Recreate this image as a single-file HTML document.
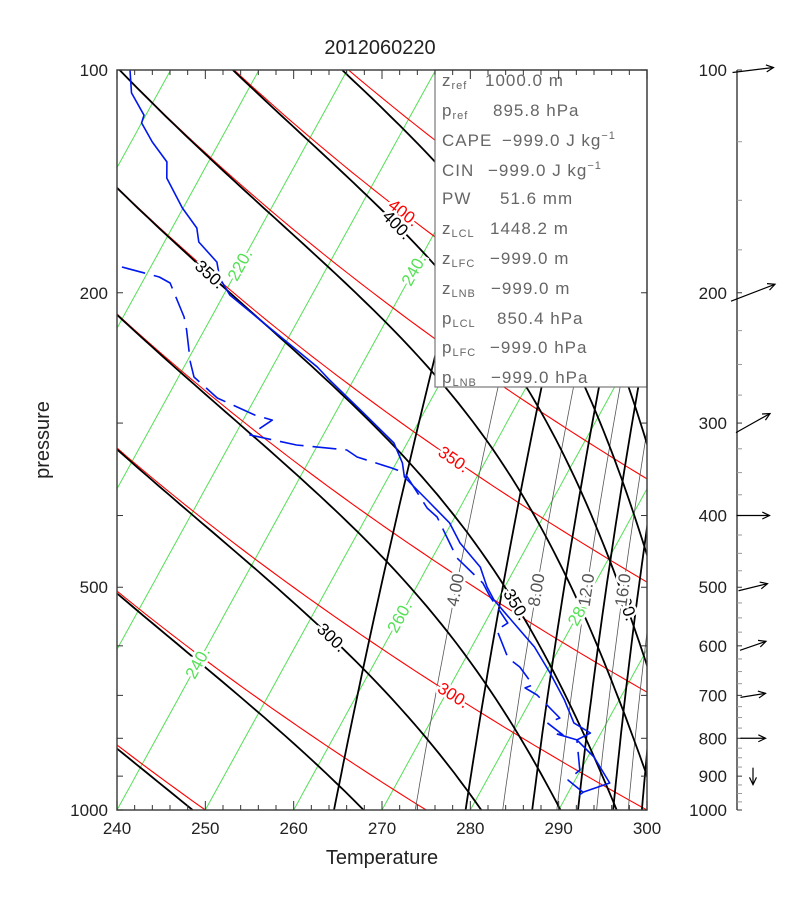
<!DOCTYPE html>
<html><head><meta charset="utf-8"><style>
html,body{margin:0;padding:0;background:#fff;}
svg{display:block;font-family:"Liberation Sans",sans-serif;}
</style></head><body>
<svg id="chart" width="810" height="910" viewBox="0 0 810 910" xmlns="http://www.w3.org/2000/svg">
<defs><clipPath id="plotclip"><rect x="117" y="70" width="530" height="740"/></clipPath></defs>
<rect x="0" y="0" width="810" height="910" fill="#fff"/>
<text x="380" y="54" font-size="20" text-anchor="middle" fill="#222">2012060220</text>
<g id="plot" clip-path="url(#plotclip)"></g>
<g id="labels"></g>
<g id="info">
<rect x="435" y="70" width="212" height="317" fill="#fff" stroke="#777" stroke-width="1.2"/>
<g font-size="17" fill="#666" letter-spacing="1">
<text x="442" y="86">z<tspan font-size="11" dy="3">ref</tspan><tspan x="485" dy="-3">1000.0  m</tspan></text>
<text x="442" y="116">p<tspan font-size="11" dy="3">ref</tspan><tspan x="493" dy="-3">895.8  hPa</tspan></text>
<text x="442" y="146">CAPE<tspan x="502">−999.0  J  kg</tspan><tspan font-size="11" dy="-7">−1</tspan></text>
<text x="442" y="176">CIN<tspan x="488">−999.0  J  kg</tspan><tspan font-size="11" dy="-7">−1</tspan></text>
<text x="442" y="204">PW<tspan x="500">51.6  mm</tspan></text>
<text x="442" y="234">z<tspan font-size="11" dy="3">LCL</tspan><tspan x="490" dy="-3">1448.2  m</tspan></text>
<text x="442" y="264">z<tspan font-size="11" dy="3">LFC</tspan><tspan x="490" dy="-3">−999.0  m</tspan></text>
<text x="442" y="294">z<tspan font-size="11" dy="3">LNB</tspan><tspan x="491" dy="-3">−999.0  m</tspan></text>
<text x="442" y="324">p<tspan font-size="11" dy="3">LCL</tspan><tspan x="497" dy="-3">850.4  hPa</tspan></text>
<text x="442" y="353">p<tspan font-size="11" dy="3">LFC</tspan><tspan x="490" dy="-3">−999.0  hPa</tspan></text>
<text x="442" y="383">p<tspan font-size="11" dy="3">LNB</tspan><tspan x="491" dy="-3">−999.0  hPa</tspan></text>
</g></g>
<rect x="117" y="70" width="530" height="740" fill="none" stroke="#444" stroke-width="1.5"/>
<g id="axes" font-size="17" fill="#222"></g>
<text x="382" y="864" font-size="20" text-anchor="middle" fill="#222">Temperature</text>
<text transform="translate(49,440) rotate(-90)" font-size="20" text-anchor="middle" fill="#222">pressure</text>
<g id="wind"></g>
</svg>
<script>
// ---- data ----
var tempP = [100,107.4,115.1,117.9,125.1,133.1,140,153.6,163.5,170.8,181.8,191,201.4,252,262.4,290.8,319.2,339.6,354.8,381.1,409.5,435.7,469.6,499.5,520.3,565.7,602,653,710,762.7,787,804,848,919.4,945.6,954.4];
var tempT = [195.4,197.0,199.8,200.0,202.4,205.3,206.3,209.9,212.8,213.9,217.2,218.5,220.7,235.1,237.3,243.2,248.5,250.7,251.8,255.8,259.8,262.2,266.0,268.0,269.6,273.9,277.1,280.5,283.8,286.3,288.8,287.7,290.7,294.1,291.7,291.4];
var dewP = [184.6,190.4,194,215.7,224.6,248,259.9,277.5,292.6,297.2,311.3,321.2,326.2,333.4,345,350.4,390.8,401.9,441.2,456.5,493.6,515.4,558.8,571.1,623.1,640.8,677.6,684,699.1,751,762.7,791.7,786.8,804,883.1,911.1,945.6];
var dewT = [206.75,211.6,213.2,216.9,218,220.4,221.75,225.7,231,233.3,231.7,237.6,243.6,245.2,249.8,251.6,256.3,258,261.5,262.8,267.3,269,272.6,271.8,274.8,276.7,279.3,278.6,280.4,284.4,283.3,285.8,284.6,287.7,289.9,289.2,291.6];
var isotherms = [150,160,170,180,190,200,210,220,230,240,250,260,270,280,290,300];
var dryAdiabats = [200,225,250,275,300,325,350,375,400,425,450,475,500,525,550,575,600];
var moistAdiabats = [200,225,250,275,300,325,350,375,400,425,450,475,500,525,550,575,600,625,650,675,700];
var mixThick = [2,6,10,14,18,22,26];
var mixThin = [4,8,12,16,20,24];
var pTicksMajor = [100,200,500,1000];
var tTicks = [240,250,260,270,280,290,300];
var windP = [100,200,300,400,500,600,700,800,900];
var windU = [27.3,29.3,22.7,22,19.3,17.3,16.7,16.7,0];
var windV = [3.3,11.3,12.7,0,4.7,6,2.7,0,-11.3];
var windLabels = [100,200,300,400,500,600,700,800,900,1000];

// ---- axis functions ----
var NS='http://www.w3.org/2000/svg';
function yP(p){return 70+740*Math.log10(p/100);}
function xTP(T,p){return 117+(T-240)*530/60+0.55*(810-yP(p));}
function es(T){var c=T-273.15;return 6.112*Math.exp(17.67*c/(c+243.5));}
function thetaE(T,p){var e=es(T);if(e>p*0.5)e=p*0.5;var r=0.622*e/(p-e);return T*Math.pow(1000/p,0.2857)*Math.exp((3376/T-2.54)*r*(1+0.81*r));}
function solveTE(te,p){var lo=120,hi=340;for(var i=0;i<50;i++){var m=(lo+hi)/2;if(thetaE(m,p)<te)lo=m;else hi=m;}return (lo+hi)/2;}
function tdMix(w,p){var e=w/1000*p/(0.622+w/1000);var l=Math.log(e/6.112);return 273.15+243.5*l/(17.67-l);}
function mk(tag,attrs,parent){var el=document.createElementNS(NS,tag);for(var k in attrs)el.setAttribute(k,attrs[k]);parent.appendChild(el);return el;}
function pts(fn){var a=[];for(var i=0;i<=80;i++){var p=100*Math.pow(10,i/80);var T=fn(p);a.push(xTP(T,p).toFixed(1)+','+yP(p).toFixed(1));}return a.join(' ');}

var plot=document.getElementById('plot');
isotherms.forEach(function(T){
  var el=mk('polyline',{points:pts(function(){return T;}),fill:'none',stroke:'#55e055','stroke-width':1},plot);
  
  
});
dryAdiabats.forEach(function(th){
  var el=mk('polyline',{points:pts(function(p){return th*Math.pow(p/1000,0.2857);}),fill:'none',stroke:'#f00','stroke-width':1.1},plot);
  
  
});
mixThin.forEach(function(w){
  var a=[];for(var i=0;i<=30;i++){var p=200+800*i/30;a.push(xTP(tdMix(w,p),p).toFixed(1)+','+yP(p).toFixed(1));}
  var el=mk('polyline',{points:a.join(' '),fill:'none',stroke:'#555','stroke-width':0.8},plot);
  
  
});
mixThick.forEach(function(w){
  var a=[];for(var i=0;i<=30;i++){var p=200+800*i/30;a.push(xTP(tdMix(w,p),p).toFixed(1)+','+yP(p).toFixed(1));}
  var el=mk('polyline',{points:a.join(' '),fill:'none',stroke:'#000','stroke-width':1.8},plot);
  
  
});
moistAdiabats.forEach(function(te){
  var el=mk('polyline',{points:pts(function(p){return solveTE(te,p);}),fill:'none',stroke:'#000','stroke-width':1.8},plot);
  
  
});
function series(P,T,dash,name){
  var a=P.map(function(p,i){return xTP(T[i],p).toFixed(1)+','+yP(p).toFixed(1);}).join(' ');
  var at={points:a,fill:'none',stroke:'#0018ee','stroke-width':1.6,'stroke-linejoin':'round'};
  if(dash)at['stroke-dasharray']=dash;
  var el=mk('polyline',at,plot);
  
  
}
series(tempP,tempT,null,'temperature-profile');
series(dewP,dewT,'24 9','dewpoint-profile');

// ---- line labels ----
var labels=document.getElementById('labels');
function lab(txt,fn,p,color,name){
  var x=xTP(fn(p),p),y=yP(p),p2=p*1.02,x2=xTP(fn(p2),p2),y2=yP(p2);
  var ang=Math.atan2(y2-y,x2-x)*180/Math.PI;
  if(ang>90)ang-=180;if(ang<-90)ang+=180;
  var t=mk('text',{x:0,y:0,transform:'translate('+x.toFixed(1)+','+y.toFixed(1)+') rotate('+ang.toFixed(1)+')','text-anchor':'middle','dominant-baseline':'central','font-size':17,fill:color,stroke:'#fff','stroke-width':5,'paint-order':'stroke'},labels);
  t.textContent=txt;
  
  
}
function isoF(T){return function(){return T;};}
function dryF(th){return function(p){return th*Math.pow(p/1000,0.2857);};}
function moistF(te){return function(p){return solveTE(te,p);};}
function mixF(w){return function(p){return tdMix(w,p);};}
function pAtY(y){return 100*Math.pow(10,(y-70)/740);}
lab('220.',isoF(220),pAtY(265),'#55e055','isotherm-label-220');
lab('240.',isoF(240),pAtY(270),'#55e055','isotherm-label-240-top');
lab('240.',isoF(240),pAtY(663),'#55e055','isotherm-label-240');
lab('260.',isoF(260),pAtY(617),'#55e055','isotherm-label-260');
lab('280.',isoF(280),pAtY(610),'#55e055','isotherm-label-280');
lab('400.',dryF(400),156,'#f00','dry-adiabat-label-400');
lab('350.',dryF(350),336,'#f00','dry-adiabat-label-350');
lab('300.',dryF(300),700,'#f00','dry-adiabat-label-300');
lab('350.',moistF(350),189,'#000','moist-adiabat-label-350-top');
lab('400.',moistF(400),162,'#000','moist-adiabat-label-400-top');
lab('300.',moistF(300),585,'#000','moist-adiabat-label-300');
lab('350.',moistF(350),528,'#000','moist-adiabat-label-350');
lab('400.',moistF(400),528,'#000','moist-adiabat-label-400');
lab('4.00',mixF(4),pAtY(590),'#555','mixing-label-4');
lab('8.00',mixF(8),pAtY(590),'#555','mixing-label-8');
lab('12.0',mixF(12),pAtY(590),'#555','mixing-label-12');
lab('16.0',mixF(16),pAtY(590),'#555','mixing-label-16');

// ---- axes ----
var axes=document.getElementById('axes');
pTicksMajor.forEach(function(p){
  var t=mk('text',{x:108,y:yP(p)+6,'text-anchor':'end'},axes);t.textContent=p;
  
  
});
for(var p=100;p<=1000;p+=100){
  mk('line',{x1:117,y1:yP(p),x2:123,y2:yP(p),stroke:'#333','stroke-width':1},axes);
  mk('line',{x1:641,y1:yP(p),x2:647,y2:yP(p),stroke:'#333','stroke-width':1},axes);
}
for(var T=240;T<=300;T+=2){
  var x=117+(T-240)*530/60,L=(T%10===0)?9:5;
  mk('line',{x1:x,y1:810,x2:x,y2:810-L,stroke:'#333','stroke-width':1},axes);
  mk('line',{x1:x,y1:70,x2:x,y2:70+L,stroke:'#333','stroke-width':1},axes);
}
tTicks.forEach(function(T){
  var t=mk('text',{x:117+(T-240)*530/60,y:834,'text-anchor':'middle'},axes);t.textContent=T;
  
  
});

// ---- wind panel ----
var wind=document.getElementById('wind');
mk('line',{x1:737,y1:70,x2:737,y2:810,stroke:'#444','stroke-width':1.5},wind);
for(var pp=100;pp<=1000;pp+=25){
  mk('line',{x1:737,y1:yP(pp),x2:742,y2:yP(pp),stroke:(pp%100===0)?'#333':'#999','stroke-width':1},wind);
}
windLabels.forEach(function(p){
  var t=mk('text',{x:727,y:yP(p)+6,'text-anchor':'end','font-size':17,fill:'#222'},wind);t.textContent=p;
  
  
});
var SC=1.5;
windP.forEach(function(p,i){
  var cx=753,cy=yP(p),dx=windU[i]*SC,dy=-windV[i]*SC;
  var x1=cx-dx/2,y1=cy-dy/2,x2=cx+dx/2,y2=cy+dy/2;
  var len=Math.hypot(dx,dy),ux=dx/len,uy=dy/len,h=8;
  var g=mk('g',{stroke:'#000','stroke-width':1.2,fill:'none'},wind);
  
  
  mk('line',{x1:x1,y1:y1,x2:x2,y2:y2},g);
  var ca=Math.cos(0.45),sa=Math.sin(0.45);
  mk('polyline',{points:(x2-h*(ux*ca-uy*sa))+','+(y2-h*(uy*ca+ux*sa))+' '+x2+','+y2+' '+(x2-h*(ux*ca+uy*sa))+','+(y2-h*(uy*ca-ux*sa))},g);
});
</script>
</body></html>
